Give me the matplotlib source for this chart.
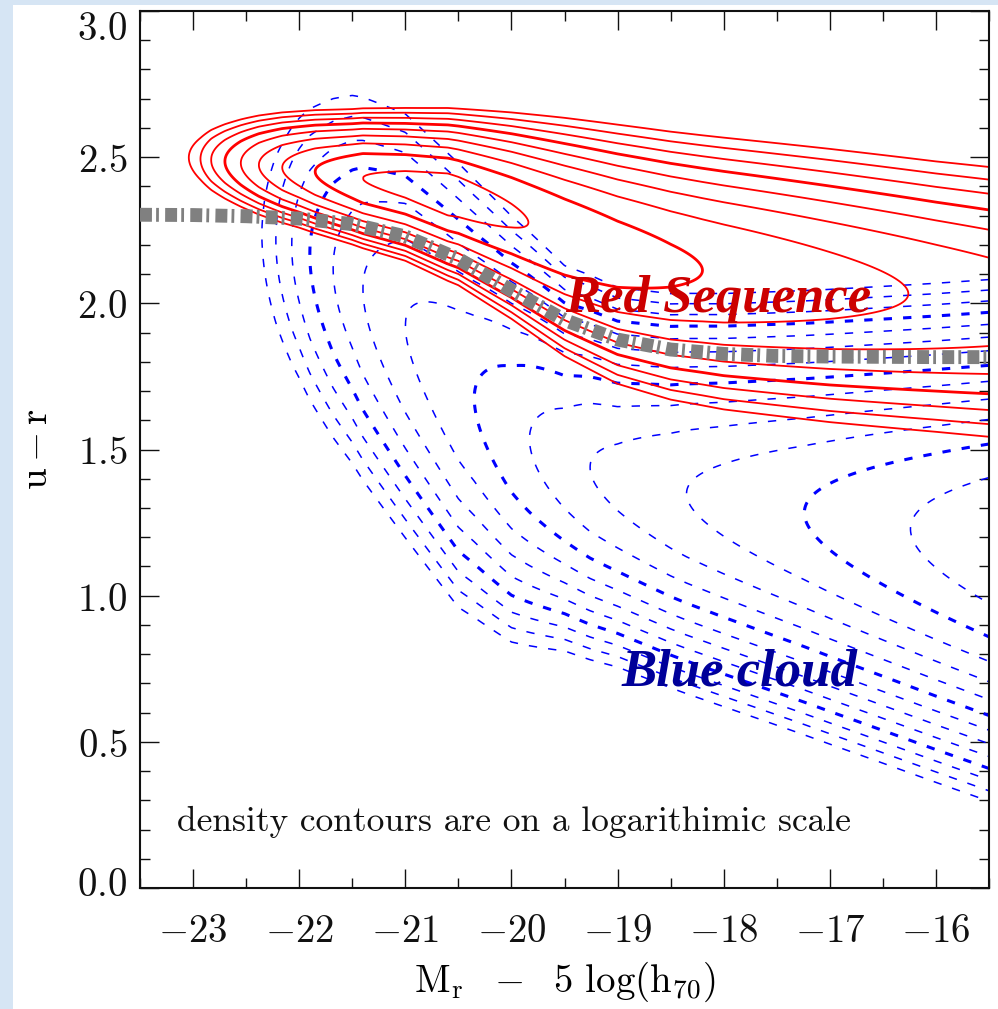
import numpy as np
import matplotlib
matplotlib.use("Agg")
import matplotlib.pyplot as plt
from matplotlib.ticker import MultipleLocator, FuncFormatter
from matplotlib.patches import Rectangle
from matplotlib.transforms import ScaledTranslation

plt.rcParams["mathtext.fontset"] = "cm"
plt.rcParams["lines.scale_dashes"] = False

# ---------------------------------------------------------------
# Colour-magnitude description of the two galaxy populations
# ---------------------------------------------------------------
mag_nodes = [-23.5, -23.0, -22.5, -22.0, -21.5, -21.0, -20.5, -20.0,
             -19.5, -19.0, -18.5, -18.0, -17.0, -16.0, -15.5]

# red sequence: ridge colour and colour width per density level
red_ridge = [2.517, 2.497, 2.478, 2.458, 2.433, 2.407, 2.364, 2.300,
             2.227, 2.168, 2.129, 2.102, 2.061, 2.023, 2.005]
red_width = [0.067, 0.071, 0.075, 0.078, 0.083, 0.091, 0.104, 0.124,
             0.146, 0.162, 0.171, 0.177, 0.185, 0.191, 0.195]
# peak log-density along the ridge (in contour-level units)
red_peak_mag = [-23.5, -23.04, -22.93, -22.83, -22.70, -22.55, -22.38, -22.16,
                -21.85, -21.40, -20.60, -19.84, -18.20, -16.26, -15.5]
red_peak_level = [-4.0, 0, 1, 2, 3, 4, 5, 6, 7, 8, 8.5, 8, 7, 6, 5.6]

# blue cloud
blue_ridge = [2.332, 2.300, 2.254, 2.189, 2.082, 1.923, 1.720, 1.570,
              1.470, 1.405, 1.359, 1.327, 1.270, 1.215, 1.189]
blue_width = [0.269, 0.275, 0.281, 0.286, 0.292, 0.296, 0.292, 0.263,
              0.225, 0.213, 0.215, 0.220, 0.232, 0.244, 0.250]
blue_peak_mag = [-23.5, -22.35, -22.22, -22.07, -21.90, -21.68, -21.40, -21.00,
                 -20.35, -19.83, -19.26, -18.35, -17.24, -16.24, -15.5]
blue_peak_level = [-5.0, 0, 1, 2, 3, 4, 5, 6, 7, 8, 9, 10, 11, 12, 12.74]

red_levels = list(range(0, 9))
blue_levels = list(range(0, 13))
red_heavy = [3, 7]
blue_heavy = [3, 7, 11]

# optimal red / blue dividing line
divider_mag = [-23.5, -23.0, -22.5, -22.0, -21.5, -21.0, -20.5, -20.0, -19.5,
               -19.0, -18.5, -18.0, -17.5, -17.0, -16.5, -16.0, -15.5]
divider_col = [2.303, 2.302, 2.298, 2.290, 2.271, 2.229, 2.152, 2.044, 1.943,
               1.876, 1.842, 1.827, 1.820, 1.818, 1.817, 1.816, 1.816]

x_ticks = [-23, -22, -21, -20, -19, -18, -17, -16]
y_ticks = [0.0, 0.5, 1.0, 1.5, 2.0, 2.5, 3.0]

# ---------------------------------------------------------------
fig = plt.figure(figsize=(9.98, 10.09), dpi=100, facecolor="#d6e5f4")
fig.patches.append(Rectangle((13 / 998, 0), 1 - 13 / 998, 1 - 5 / 1009,
                             transform=fig.transFigure, facecolor="white",
                             edgecolor="none", zorder=-5))
ax = fig.add_axes([140 / 998, 121 / 1009, 849 / 998, 877 / 1009])

mag_grid = np.linspace(-23.5, -15.5, 700)
col_grid = np.linspace(0.0, 3.0, 700)
MM, CC = np.meshgrid(mag_grid, col_grid)


def level_field(ridge, width, peak_mag, peak_level):
    mu = np.interp(mag_grid, mag_nodes, ridge)
    w = np.interp(mag_grid, mag_nodes, width)
    amp = np.interp(mag_grid, peak_mag, peak_level)
    return amp[None, :] - ((CC - mu[None, :]) / w[None, :]) ** 2


red_field = level_field(red_ridge, red_width, red_peak_mag, red_peak_level)
blue_field = level_field(blue_ridge, blue_width, blue_peak_mag, blue_peak_level)

ax.contour(MM, CC, blue_field, levels=blue_levels, colors="#0000ff",
           linewidths=[2.2 if k in blue_heavy else 1.1 for k in blue_levels],
           linestyles=[(0, (6, 8))] * len(blue_levels), zorder=2)
ax.contour(MM, CC, red_field, levels=red_levels, colors="#ff0000",
           linewidths=[2.0 if k in red_heavy else 1.3 for k in red_levels],
           zorder=2.5)

ax.plot(divider_mag, divider_col, color="#808080", lw=10,
        dashes=(8.6, 3.0, 2.0, 4.5), dash_capstyle="butt", zorder=3)

ax.set_xlim(-23.5, -15.5)
ax.set_ylim(0.0, 3.0)
ax.set_xticks(x_ticks)
ax.set_yticks(y_ticks)
ax.xaxis.set_minor_locator(MultipleLocator(0.5))
ax.yaxis.set_minor_locator(MultipleLocator(0.1))
ax.xaxis.set_major_formatter(FuncFormatter(lambda v, p: r"$%d$" % round(v)))
ax.yaxis.set_major_formatter(FuncFormatter(lambda v, p: r"$%.1f$" % v))
ax.tick_params(which="both", direction="in", top=True, right=True,
               width=1.0, colors="#111111", labelsize=28)
ax.tick_params(which="major", length=13.5)
ax.tick_params(which="minor", length=7)
ax.tick_params(axis="x", pad=17)
ax.tick_params(axis="y", pad=9)
for s in ax.spines.values():
    s.set_linewidth(1.5)
    s.set_color("#111111")

# keep the end labels of the colour axis inside the frame
y_tick_objs = ax.yaxis.get_major_ticks()
y_tick_objs[-1].label1.set_transform(
    y_tick_objs[-1].label1.get_transform()
    + ScaledTranslation(0, -0.14, fig.dpi_scale_trans))
y_tick_objs[0].label1.set_transform(
    y_tick_objs[0].label1.get_transform()
    + ScaledTranslation(0, 0.07, fig.dpi_scale_trans))

ax.set_xlabel(r"$\mathrm{M_r\ \ -\ \ 5\ log(h_{70})}$", fontsize=28)
ax.set_ylabel(r"$\mathrm{u-r}$", fontsize=28)
ax.xaxis.set_label_coords(0.5, -0.082)
ax.yaxis.set_label_coords(-0.10, 0.5)

ax.text(-18.05, 1.969, "Red Sequence", color="#cc0000", fontsize=38,
        family="Liberation Serif", weight="bold", style="italic",
        ha="center", va="baseline", zorder=5)
ax.text(-17.85, 0.694, "Blue cloud", color="#000099", fontsize=38,
        family="Liberation Serif", weight="bold", style="italic",
        ha="center", va="baseline", zorder=5)
ax.text(-19.98, 0.195, "density contours are on a logarithimic scale",
        family="cmr10", fontsize=25.5, color="#111111",
        ha="center", va="baseline", zorder=5)

fig.savefig("out.png", dpi=100, facecolor=fig.get_facecolor())
